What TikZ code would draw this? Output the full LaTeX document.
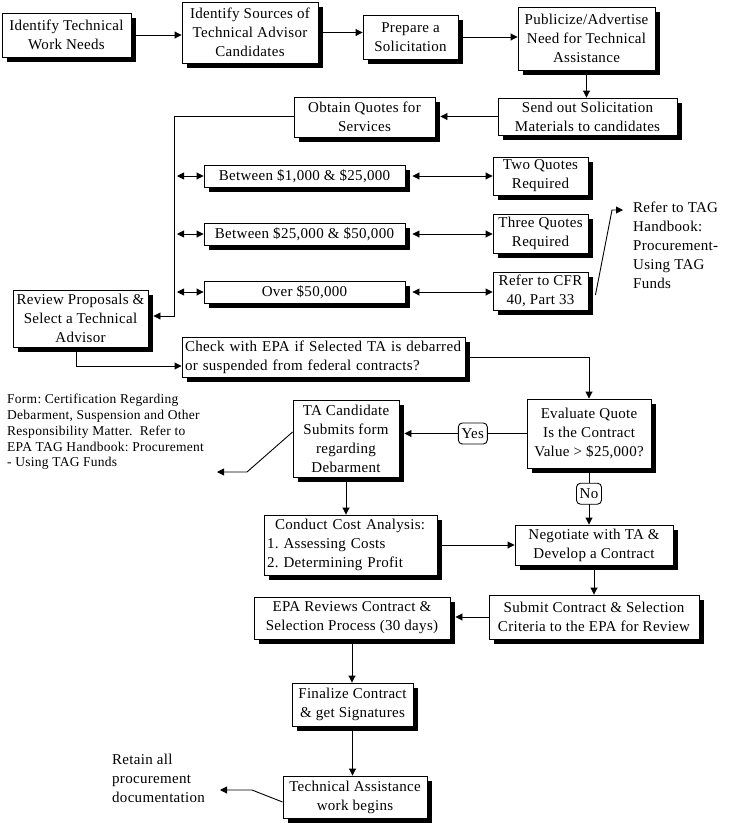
\documentclass[tikz,border=0pt]{standalone}
\usepackage{fontspec}
\setmainfont{Liberation Serif}[LetterSpace=2]
\frenchspacing
\usetikzlibrary{arrows.meta,shadows}
\begin{document}
\begin{tikzpicture}[x=1pt,y=-1pt,
  box/.style={draw=black, line width=0.9pt, fill=white, inner sep=0pt, align=center,
    font=\fontsize{15}{19}\selectfont,
    drop shadow={shadow xshift=5pt, shadow yshift=-5pt, opacity=1, fill=black}},
  note/.style={inner sep=0pt, align=left, font=\fontsize{15}{19}\selectfont},
  smallnote/.style={inner sep=0pt, align=left, font=\fontsize{13.5}{15.7}\selectfont},
  arr/.style={line width=0.9pt, -{Triangle[length=7pt,width=7pt]}},
  dbl/.style={line width=0.9pt, {Triangle[length=7pt,width=7pt]}-{Triangle[length=7pt,width=7pt]}},
  lbl/.style={draw, rounded corners=4pt, fill=white, line width=0.9pt,
    font=\fontsize{15}{19}\selectfont, inner sep=0pt, minimum height=21pt}
]
\useasboundingbox (0,0) rectangle (729,823);

% boxes
\node[box, minimum width=129pt, minimum height=44pt] (needs) at (66.5,35) {Identify Technical\\Work Needs};
\node[box, minimum width=136pt, minimum height=61pt] (sources) at (250,32.5) {Identify Sources of\\Technical Advisor\\Candidates};
\node[box, minimum width=95pt, minimum height=44pt] (prepare) at (410.5,37) {Prepare a\\Solicitation};
\node[box, minimum width=137pt, minimum height=63pt] (publicize) at (586.5,38.5) {Publicize/Advertise\\Need for Technical\\Assistance};
\node[box, minimum width=179pt, minimum height=37pt] (send) at (587.5,116.5) {Send out Solicitation\\Materials to candidates};
\node[box, minimum width=141pt, minimum height=40pt] (obtain) at (364.5,117) {Obtain Quotes for\\Services};
\node[box, minimum width=201pt, minimum height=22pt] (r1) at (304.5,176) {Between \$1,000 \& \$25,000};
\node[box, minimum width=201pt, minimum height=22pt] (r2) at (304.5,234) {Between \$25,000 \& \$50,000};
\node[box, minimum width=201pt, minimum height=22pt] (r3) at (304.5,292) {Over \$50,000};
\node[box, minimum width=95pt, minimum height=38pt] (q1) at (540.5,176) {Two Quotes\\Required};
\node[box, minimum width=95pt, minimum height=39pt] (q2) at (540.5,233.5) {Three Quotes\\Required};
\node[box, minimum width=95pt, minimum height=38pt] (q3) at (540.5,291) {Refer to CFR\\40, Part 33};
\node[box, minimum width=135pt, minimum height=57pt] (review) at (80.5,318.5) {Review Proposals \&\\Select a Technical\\Advisor};
\node[box, text width=277pt, inner xsep=3pt, align=left, minimum height=40pt] (check) at (323.5,357) {Check with EPA if Selected TA is debarred\\or suspended from federal contracts?};
\node[box, minimum width=124pt, minimum height=69pt] (evaluate) at (589,433.5) {Evaluate Quote\\Is the Contract\\Value > \$25,000?};
\node[box, minimum width=106pt, minimum height=77pt] (tacand) at (346,438.5) {TA Candidate\\Submits form\\regarding\\Debarment};
\node[box, text width=167pt, inner xsep=3pt, align=left, minimum height=60pt] (cost) at (350.5,545) {\hspace*{8pt}Conduct Cost Analysis:\\1. Assessing Costs\\2. Determining Profit};
\node[box, minimum width=158pt, minimum height=40pt] (negotiate) at (594,545) {Negotiate with TA \&\\Develop a Contract};
\node[box, minimum width=210pt, minimum height=44pt] (submit) at (594,617) {Submit Contract \& Selection\\Criteria to the EPA for Review};
\node[box, minimum width=196pt, minimum height=42pt] (epa) at (352,618) {EPA Reviews Contract \&\\Selection Process (30 days)};
\node[box, minimum width=121pt, minimum height=43pt] (finalize) at (352.5,704.5) {Finalize Contract\\\& get Signatures};
\node[box, minimum width=144pt, minimum height=42pt] (tawork) at (355,797) {Technical Assistance\\work begins};

% notes
\node[note, anchor=west] (refer) at (633,245) {Refer to TAG\\Handbook:\\Procurement-\\Using TAG\\Funds};
\node[smallnote, anchor=west] (form) at (7,432) {Form: Certification Regarding\\Debarment, Suspension and Other\\Responsibility Matter.\ \ Refer to\\EPA TAG Handbook: Procurement\\- Using TAG Funds};
\node[note, anchor=west] (retain) at (112,778) {Retain all\\procurement\\documentation};

% helper coordinates
\coordinate (tk1) at (174,116);
\coordinate (tk2) at (174,316);
\coordinate (rk) at (612,210);
\coordinate (refertip) at (623,210);
\coordinate (fk) at (247,472);
\coordinate (formtip) at (217,472);
\coordinate (rtk) at (252,790);
\coordinate (retaintip) at (220,790);

% top row
\draw[arr] (needs.east) -- (needs.east -| sources.west);
\draw[arr] (sources.east) -- (sources.east -| prepare.west);
\draw[arr] (prepare.east) -- (prepare.east -| publicize.west);
\draw[arr] (publicize.south) -- (publicize.south |- send.north);
\draw[arr] (send.west) -- ([xshift=5pt]obtain.east |- send.west);

% trunk
\draw[arr] (obtain.west |- tk1) -- (tk1) -- (tk2) -- ([xshift=5pt]review.east |- tk2);
\draw[dbl] ([xshift=3pt]tk1 |- r1.west) -- (r1.west);
\draw[dbl] ([xshift=3pt]tk1 |- r2.west) -- (r2.west);
\draw[dbl] ([xshift=3pt]tk1 |- r3.west) -- (r3.west);
\draw[dbl] ([xshift=7pt]r1.east) -- (r1.east -| q1.west);
\draw[dbl] ([xshift=7pt]r2.east) -- (r2.east -| q2.west);
\draw[dbl] ([xshift=7pt]r3.east) -- (r3.east -| q3.west);
\draw[arr] ([shift={(7pt,-4pt)}]q3.east) -- (rk) -- (refertip);

% middle
\draw[arr] ([xshift=-4.5pt]review.south) |- ([yshift=-9pt]check.west);
\draw[arr] (check.east) -| (evaluate.north);
\draw[arr] (evaluate.west) -- ([xshift=5pt]tacand.east |- evaluate.west)
  node[lbl, pos=0.44, minimum width=29pt] (yes) {Yes};
\draw[arr] (evaluate.south) -- (evaluate.south |- negotiate.north)
  node[lbl, pos=0.45, minimum width=25pt] (no) {No};
\draw[arr] ([yshift=6.5pt]tacand.west) -- (fk) -- (formtip);
\draw[arr] (tacand.south) -- (tacand.south |- cost.north);
\draw[arr] (cost.east) -- (cost.east -| negotiate.west);
\draw[arr] (negotiate.south) -- (negotiate.south |- submit.north);
\draw[arr] (submit.west) -- ([xshift=5pt]epa.east |- submit.west);
\draw[arr] (epa.south) -- (epa.south |- finalize.north);
\draw[arr] (finalize.south) -- (finalize.south |- tawork.north);
\draw[arr] ([yshift=-5pt]tawork.west) -- (rtk) -- (retaintip);
\end{tikzpicture}
\end{document}
